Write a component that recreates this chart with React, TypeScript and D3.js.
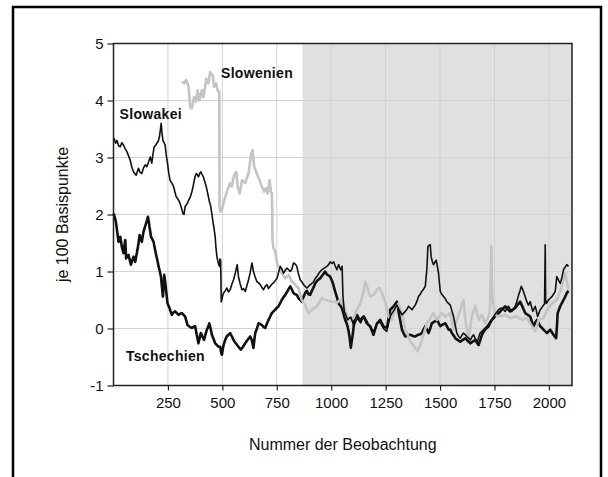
import React, { useEffect, useRef } from 'react';
import * as d3 from 'd3';

// values: [Nummer der Beobachtung, je 100 Basispunkte]
const slowakei: [number, number][] = [
  [1, 3.3], [3, 3.33], [10, 3.25], [16, 3.3], [24, 3.2], [31, 3.19], [38, 3.26], [46, 3.22], [54, 3.15], [62, 3.1],
  [70, 3.02], [77, 2.95], [85, 2.82], [92, 2.75], [98, 2.72], [104, 2.69], [110, 2.76], [115, 2.81], [122, 2.74], [130, 2.72],
  [138, 2.82], [146, 2.87], [153, 2.84], [161, 2.92], [169, 3.01], [176, 2.9], [181, 3.05], [187, 3.19], [193, 3.21], [199, 3.25],
  [205, 3.28], [211, 3.36], [215, 3.48], [219, 3.6], [223, 3.42], [227, 3.3], [232, 3.26], [237, 3.22], [242, 3.05], [248, 2.9],
  [254, 2.72], [260, 2.6], [268, 2.55], [276, 2.49], [282, 2.4], [288, 2.31], [294, 2.28], [299, 2.25], [305, 2.2], [310, 2.14],
  [315, 2.08], [319, 2.02], [324, 2.0], [329, 2.14], [337, 2.18], [345, 2.25], [352, 2.3], [360, 2.4], [366, 2.5], [371, 2.6],
  [376, 2.68], [380, 2.72], [385, 2.7], [390, 2.66], [396, 2.72], [401, 2.75], [407, 2.7], [413, 2.66], [419, 2.58], [426, 2.49],
  [431, 2.4], [436, 2.31], [441, 2.22], [447, 2.14], [452, 2.0], [457, 1.87], [462, 1.75], [467, 1.61], [471, 1.4], [475, 1.26],
  [481, 1.15], [487, 1.09], [489, 1.22], [492, 1.2], [495, 0.47], [500, 0.55], [505, 0.62], [513, 0.66], [521, 0.71], [528, 0.64],
  [536, 0.68], [544, 0.78], [551, 0.85], [560, 0.98], [568, 1.12], [574, 0.91], [582, 0.78], [590, 0.68], [597, 0.7], [605, 0.65],
  [612, 0.74], [620, 0.85], [628, 0.98], [636, 1.15], [643, 1.0], [651, 0.9], [659, 0.82], [667, 0.8], [674, 0.77], [682, 0.72],
  [689, 0.68], [697, 0.74], [705, 0.77], [712, 0.7], [720, 0.74], [728, 0.78], [735, 0.8], [743, 0.84], [751, 0.88], [758, 0.98],
  [766, 1.09], [773, 1.05], [781, 0.97], [789, 1.02], [797, 1.06], [804, 1.03], [812, 1.0], [819, 1.04], [827, 1.15], [835, 1.13],
  [842, 1.09], [850, 0.95], [858, 0.85], [865, 0.82], [873, 0.77], [880, 0.74], [888, 0.71], [896, 0.74], [904, 0.77], [911, 0.79],
  [919, 0.82], [927, 0.88], [934, 0.91], [945, 0.98], [957, 1.03], [968, 1.06], [980, 1.09], [988, 1.12], [995, 1.17], [1003, 1.14],
  [1011, 1.17], [1018, 1.1], [1026, 1.03], [1034, 1.12], [1040, 1.06], [1044, 1.03], [1050, 1.09], [1054, 0.56], [1060, 0.3], [1067, 0.24],
  [1075, 0.15], [1082, 0.18], [1090, 0.2], [1097, 0.12], [1105, 0.05], [1112, 0.12], [1120, 0.18], [1127, 0.14], [1135, 0.1], [1142, 0.16],
  [1150, 0.22], [1158, 0.17], [1165, 0.12], [1172, 0.06], [1180, 0.02], [1188, -0.02], [1195, -0.05], [1203, 0.02], [1210, 0.08], [1218, 0.1],
  [1225, 0.12], [1232, 0.06], [1240, 0.0], [1248, -0.03], [1255, -0.05], [1263, 0.08], [1271, 0.21], [1278, 0.26], [1285, 0.3], [1294, 0.36],
  [1302, 0.41], [1313, 0.32], [1325, 0.24], [1333, 0.27], [1340, 0.3], [1348, 0.34], [1355, 0.39], [1363, 0.36], [1371, 0.33], [1378, 0.37],
  [1386, 0.41], [1394, 0.48], [1401, 0.56], [1409, 0.6], [1416, 0.65], [1424, 0.69], [1432, 0.74], [1436, 0.9], [1439, 1.03], [1442, 1.25],
  [1444, 1.44], [1450, 1.46], [1455, 1.47], [1459, 1.26], [1464, 1.18], [1470, 1.12], [1476, 1.16], [1482, 1.2], [1488, 1.08], [1493, 0.97],
  [1497, 0.8], [1501, 0.65], [1508, 0.6], [1516, 0.56], [1524, 0.52], [1531, 0.47], [1539, 0.44], [1547, 0.41], [1555, 0.3], [1562, 0.21],
  [1570, 0.05], [1577, -0.08], [1585, -0.14], [1593, -0.17], [1600, -0.12], [1608, -0.08], [1616, -0.11], [1623, -0.14], [1631, -0.17], [1639, -0.2],
  [1646, -0.15], [1654, -0.11], [1662, -0.18], [1669, -0.26], [1677, -0.16], [1684, -0.08], [1692, -0.05], [1700, -0.02], [1707, 0.01], [1715, 0.04],
  [1723, 0.08], [1730, 0.12], [1738, 0.16], [1746, 0.21], [1757, 0.27], [1769, 0.33], [1776, 0.35], [1784, 0.36], [1792, 0.33], [1799, 0.3],
  [1807, 0.35], [1814, 0.39], [1822, 0.34], [1830, 0.3], [1838, 0.35], [1845, 0.39], [1853, 0.48], [1861, 0.59], [1867, 0.66], [1873, 0.74],
  [1878, 0.7], [1883, 0.65], [1890, 0.57], [1896, 0.5], [1901, 0.45], [1906, 0.41], [1910, 0.44], [1914, 0.47], [1920, 0.38], [1926, 0.3],
  [1932, 0.35], [1937, 0.39], [1943, 0.3], [1948, 0.21], [1954, 0.27], [1960, 0.33], [1968, 0.37], [1975, 0.41], [1980, 0.43], [1983, 1.47],
  [1985, 0.5], [1988, 0.44], [1993, 0.47], [1998, 0.5], [2006, 0.53], [2014, 0.56], [2021, 0.6], [2029, 0.65], [2033, 0.8], [2036, 0.91],
  [2044, 0.85], [2052, 0.79], [2060, 0.9], [2067, 1.03], [2075, 1.08], [2082, 1.12], [2090, 1.09],
];

const tschechien: [number, number][] = [
  [1, 2.02], [3, 1.99], [8, 1.92], [12, 1.85], [15, 1.76], [18, 1.67], [23, 1.52], [27, 1.57], [31, 1.61], [35, 1.52],
  [38, 1.44], [42, 1.38], [46, 1.32], [50, 1.45], [54, 1.55], [58, 1.23], [63, 1.27], [69, 1.29], [75, 1.2], [80, 1.12],
  [86, 1.19], [92, 1.26], [96, 1.21], [100, 1.17], [105, 1.28], [110, 1.38], [115, 1.5], [120, 1.64], [125, 1.58], [130, 1.52],
  [134, 1.61], [138, 1.7], [144, 1.78], [150, 1.85], [154, 1.9], [158, 1.96], [162, 1.88], [165, 1.79], [169, 1.7], [172, 1.61],
  [178, 1.57], [184, 1.52], [190, 1.4], [196, 1.29], [202, 1.19], [207, 1.09], [213, 1.0], [218, 0.91], [222, 0.75], [227, 0.56],
  [230, 0.75], [233, 0.94], [238, 0.8], [242, 0.65], [245, 0.55], [248, 0.44], [253, 0.4], [257, 0.36], [262, 0.3], [268, 0.24],
  [275, 0.28], [283, 0.3], [291, 0.27], [299, 0.24], [307, 0.26], [314, 0.27], [322, 0.24], [329, 0.21], [335, 0.13], [340, 0.06],
  [350, 0.03], [360, 0.01], [368, 0.03], [375, 0.04], [382, -0.1], [390, -0.26], [396, -0.16], [401, -0.08], [408, -0.14], [416, -0.2],
  [422, -0.11], [429, -0.02], [435, 0.03], [440, 0.09], [446, 0.0], [452, -0.11], [460, -0.19], [467, -0.26], [475, -0.29], [482, -0.32],
  [490, -0.32], [495, -0.43], [498, -0.46], [505, -0.3], [513, -0.2], [520, -0.14], [528, -0.11], [536, -0.08], [544, -0.14], [551, -0.2],
  [558, -0.24], [566, -0.28], [574, -0.32], [580, -0.35], [585, -0.37], [595, -0.32], [605, -0.26], [612, -0.22], [620, -0.18], [628, -0.14],
  [635, -0.2], [643, -0.34], [647, -0.2], [651, -0.08], [659, 0.0], [666, 0.09], [674, 0.08], [681, 0.06], [689, 0.03], [697, 0.01],
  [704, 0.08], [712, 0.15], [720, 0.21], [727, 0.27], [735, 0.3], [743, 0.33], [750, 0.36], [758, 0.39], [766, 0.45], [773, 0.5],
  [781, 0.55], [789, 0.59], [797, 0.64], [804, 0.69], [812, 0.74], [820, 0.68], [827, 0.62], [835, 0.6], [842, 0.59], [850, 0.53],
  [858, 0.5], [865, 0.47], [872, 0.55], [880, 0.62], [888, 0.66], [896, 0.6], [903, 0.59], [911, 0.66], [919, 0.72], [926, 0.79],
  [934, 0.83], [942, 0.86], [949, 0.88], [957, 0.92], [965, 0.96], [972, 1.0], [980, 0.95], [988, 0.93], [995, 0.91], [1002, 0.85],
  [1008, 0.79], [1013, 0.72], [1018, 0.65], [1026, 0.55], [1034, 0.44], [1042, 0.4], [1049, 0.36], [1057, 0.25], [1064, 0.15], [1070, 0.1],
  [1075, 0.04], [1080, -0.05], [1084, -0.14], [1087, -0.24], [1090, -0.34], [1095, -0.2], [1100, -0.08], [1106, 0.15], [1112, 0.2], [1118, 0.24],
  [1125, 0.19], [1133, 0.15], [1141, 0.18], [1149, 0.21], [1156, 0.15], [1164, 0.09], [1172, 0.06], [1179, 0.04], [1187, -0.04], [1194, -0.11],
  [1202, -0.01], [1210, 0.09], [1218, 0.12], [1225, 0.15], [1233, 0.09], [1240, 0.04], [1248, 0.02], [1256, 0.01], [1263, 0.17], [1271, 0.33],
  [1279, 0.36], [1286, 0.39], [1294, 0.43], [1302, 0.47], [1309, 0.3], [1317, 0.14], [1325, -0.02], [1332, -0.08], [1340, -0.14], [1352, -0.12],
  [1363, -0.11], [1375, -0.13], [1386, -0.14], [1394, -0.12], [1401, -0.11], [1409, -0.1], [1416, -0.08], [1424, -0.02], [1432, 0.04], [1440, -0.02],
  [1447, -0.08], [1455, 0.0], [1462, 0.09], [1474, 0.12], [1485, 0.15], [1493, 0.1], [1501, 0.04], [1512, 0.07], [1524, 0.09], [1531, 0.04],
  [1539, -0.02], [1547, -0.02], [1554, -0.08], [1562, -0.12], [1570, -0.17], [1580, -0.2], [1593, -0.23], [1605, -0.2], [1616, -0.17], [1628, -0.22],
  [1639, -0.26], [1650, -0.23], [1662, -0.2], [1670, -0.25], [1677, -0.29], [1685, -0.2], [1692, -0.11], [1700, -0.06], [1707, -0.02], [1715, 0.01],
  [1723, 0.04], [1730, 0.1], [1738, 0.15], [1750, 0.2], [1761, 0.24], [1772, 0.28], [1784, 0.33], [1792, 0.36], [1799, 0.39], [1810, 0.34],
  [1822, 0.3], [1834, 0.33], [1845, 0.36], [1857, 0.42], [1868, 0.47], [1880, 0.37], [1891, 0.27], [1903, 0.24], [1914, 0.21], [1922, 0.12],
  [1929, 0.04], [1937, 0.1], [1945, 0.15], [1952, 0.1], [1960, 0.04], [1968, 0.01], [1975, -0.02], [1983, -0.05], [1991, -0.08], [1998, -0.05],
  [2006, -0.02], [2014, -0.07], [2021, -0.11], [2027, -0.14], [2033, -0.17], [2037, 0.05], [2040, 0.27], [2046, 0.33], [2052, 0.39], [2060, 0.45],
  [2067, 0.5], [2075, 0.56], [2082, 0.62], [2090, 0.66],
];

const slowenien: [number, number][] = [
  [314, 4.33], [320, 4.31], [325, 4.3], [330, 4.34], [334, 4.36], [340, 4.3], [345, 4.24], [349, 4.05], [352, 3.89], [356, 3.87],
  [360, 3.86], [365, 3.96], [370, 4.06], [375, 4.02], [380, 3.98], [383, 4.08], [386, 4.18], [391, 4.09], [395, 4.0], [400, 4.09],
  [406, 4.18], [410, 4.12], [413, 4.06], [420, 4.22], [426, 4.38], [431, 4.34], [436, 4.3], [440, 4.4], [444, 4.5], [450, 4.47],
  [456, 4.44], [459, 4.34], [462, 4.24], [467, 4.27], [472, 4.3], [478, 4.18], [484, 4.15], [486, 4.15], [487, 2.14], [490, 2.05],
  [494, 2.07], [498, 2.08], [505, 2.2], [513, 2.3], [521, 2.4], [528, 2.48], [536, 2.55], [544, 2.49], [549, 2.6], [554, 2.69],
  [564, 2.75], [570, 2.49], [575, 2.43], [579, 2.37], [585, 2.48], [590, 2.6], [597, 2.58], [605, 2.55], [612, 2.64], [620, 2.72],
  [626, 2.88], [631, 3.04], [635, 3.08], [639, 3.13], [646, 2.84], [652, 2.78], [658, 2.72], [664, 2.66], [671, 2.6], [676, 2.55],
  [681, 2.49], [687, 2.45], [692, 2.4], [700, 2.46], [705, 2.41], [708, 2.37], [713, 2.5], [717, 2.6], [723, 2.4], [727, 2.37],
  [729, 2.1], [730, 1.55], [735, 1.41], [739, 1.38], [743, 1.35], [747, 1.25], [750, 1.17], [754, 1.12], [758, 1.09], [766, 1.03],
  [773, 0.97], [781, 0.92], [789, 0.88], [797, 0.91], [804, 0.94], [812, 0.88], [819, 0.82], [827, 0.8], [835, 0.77], [842, 0.74],
  [850, 0.71], [858, 0.6], [865, 0.5], [872, 0.46], [880, 0.42], [888, 0.34], [896, 0.27], [903, 0.3], [911, 0.33], [922, 0.36],
  [934, 0.39], [945, 0.46], [957, 0.53], [968, 0.51], [980, 0.5], [992, 0.48], [1003, 0.47], [1011, 0.47], [1018, 0.47], [1026, 0.45],
  [1034, 0.48], [1041, 0.5], [1049, 0.45], [1057, 0.41], [1064, 0.31], [1072, 0.21], [1080, 0.18], [1087, 0.15], [1095, 0.16], [1102, 0.18],
  [1110, 0.25], [1118, 0.33], [1125, 0.38], [1133, 0.44], [1141, 0.54], [1149, 0.65], [1153, 0.74], [1156, 0.82], [1162, 0.76], [1167, 0.71],
  [1173, 0.63], [1179, 0.56], [1186, 0.58], [1194, 0.59], [1202, 0.63], [1210, 0.68], [1216, 0.7], [1222, 0.71], [1228, 0.66], [1233, 0.62],
  [1240, 0.54], [1248, 0.47], [1256, 0.34], [1263, 0.21], [1271, 0.18], [1279, 0.15], [1286, 0.24], [1294, 0.33], [1302, 0.38], [1309, 0.44],
  [1317, 0.35], [1325, 0.27], [1332, 0.12], [1340, -0.02], [1352, -0.12], [1363, -0.23], [1375, -0.28], [1386, -0.34], [1392, -0.37], [1397, -0.4],
  [1403, -0.34], [1409, -0.29], [1416, -0.2], [1424, -0.11], [1432, -0.01], [1439, 0.09], [1447, 0.13], [1455, 0.18], [1462, 0.22], [1470, 0.27],
  [1478, 0.21], [1485, 0.15], [1496, 0.21], [1508, 0.27], [1516, 0.24], [1524, 0.21], [1535, 0.24], [1547, 0.27], [1555, 0.12], [1562, -0.02],
  [1570, 0.06], [1577, 0.15], [1585, 0.24], [1593, 0.33], [1600, 0.42], [1608, 0.5], [1612, 0.32], [1616, 0.15], [1623, 0.0], [1631, -0.14],
  [1639, 0.03], [1646, 0.21], [1654, 0.3], [1662, 0.39], [1670, 0.27], [1677, 0.15], [1685, 0.2], [1692, 0.24], [1700, 0.16], [1707, 0.09],
  [1715, 0.15], [1723, 0.21], [1727, 0.3], [1730, 0.39], [1733, 0.9], [1735, 1.44], [1737, 1.0], [1740, 0.56], [1746, 0.4], [1753, 0.24],
  [1765, 0.22], [1776, 0.21], [1788, 0.23], [1799, 0.24], [1810, 0.21], [1822, 0.18], [1838, 0.2], [1853, 0.21], [1865, 0.18], [1876, 0.15],
  [1888, 0.17], [1899, 0.18], [1910, 0.11], [1922, 0.04], [1930, 0.0], [1937, -0.05], [1945, 0.05], [1952, 0.15], [1963, 0.17], [1975, 0.18],
  [1983, 0.25], [1991, 0.33], [2002, 0.38], [2014, 0.44], [2025, 0.47], [2036, 0.5], [2048, 0.62], [2059, 0.74], [2067, 0.86], [2075, 0.97],
  [2082, 0.82], [2090, 0.68],
];

const xTicks = [250, 500, 750, 1000, 1250, 1500, 1750, 2000];
const yTicks = [-1, 0, 1, 2, 3, 4, 5];
const shadeStart = 868;
const xDomain = [0, 2106];
const yDomain = [-1, 5];

// name, anchor obs, anchor value for the in-plot labels
const seriesLabels: [string, number, number][] = [
  ['Slowenien', 494, 4.48],
  ['Slowakei', 28, 3.77],
  ['Tschechien', 57, -0.49],
];

const W = 608;
const H = 477;
const margin = { left: 113.5, right: 36, top: 43.5, bottom: 91.5 };
const font = '"Liberation Sans", Arial, sans-serif';

export default function App() {
  const ref = useRef<SVGSVGElement>(null);

  useEffect(() => {
    const svg = d3.select(ref.current);
    svg.selectAll('*').remove();

    const x = d3.scaleLinear().domain(xDomain).range([margin.left, W - margin.right]);
    const y = d3.scaleLinear().domain(yDomain).range([H - margin.bottom, margin.top]);
    const [x0, x1] = x.range();
    const [y0, y1] = y.range();

    svg.append('rect').attr('width', W).attr('height', H).attr('fill', '#fff');
    // outer frame (bottom edge runs off the picture)
    svg.append('rect')
      .attr('x', 13).attr('y', 7).attr('width', 588).attr('height', 500)
      .attr('fill', 'none').attr('stroke', '#000').attr('stroke-width', 2.5);

    svg.append('rect')
      .attr('x', x(shadeStart)).attr('y', y1)
      .attr('width', x1 - x(shadeStart)).attr('height', y0 - y1)
      .attr('fill', '#e0e0e0');

    const grid = svg.append('g').attr('stroke', '#d2d2d2').attr('stroke-width', 1);
    grid.selectAll('.gx').data(xTicks).enter().append('line')
      .attr('x1', (d) => x(d)).attr('x2', (d) => x(d))
      .attr('y1', y1).attr('y2', y0);
    grid.selectAll('.gy').data(yTicks).enter().append('line')
      .attr('x1', x0).attr('x2', x1)
      .attr('y1', (d) => y(d)).attr('y2', (d) => y(d));

    const plot = svg.append('g');
    const line = d3.line<[number, number]>().x((d) => x(d[0])).y((d) => y(d[1]));
    plot.append('path').datum(tschechien).attr('d', line)
      .attr('fill', 'none').attr('stroke', '#111').attr('stroke-width', 2.6).attr('stroke-linejoin', 'round');
    plot.append('path').datum(slowenien).attr('d', line)
      .attr('fill', 'none').attr('stroke', '#c4c4c4').attr('stroke-width', 2.6).attr('stroke-linejoin', 'round');
    plot.append('path').datum(slowakei).attr('d', line)
      .attr('fill', 'none').attr('stroke', '#111').attr('stroke-width', 1.6).attr('stroke-linejoin', 'round');

    svg.append('rect')
      .attr('x', x0).attr('y', y1).attr('width', x1 - x0).attr('height', y0 - y1)
      .attr('fill', 'none').attr('stroke', '#222').attr('stroke-width', 1.5);

    // plain hyphen for negatives, as in the original
    const fmt = (d: d3.NumberValue) => String(d);
    const yAxis = svg.append('g').attr('transform', `translate(${x0},0)`)
      .call(d3.axisLeft(y).tickValues(yTicks).tickSize(6).tickPadding(4).tickFormat(fmt));
    const xAxis = svg.append('g').attr('transform', `translate(0,${y0})`)
      .call(d3.axisBottom(x).tickValues(xTicks).tickSize(5).tickPadding(7).tickFormat(fmt));
    [xAxis, yAxis].forEach((g) => {
      g.select('.domain').remove();
      g.selectAll('line').attr('stroke', '#222').attr('stroke-width', 1.2);
      g.selectAll('text').attr('fill', '#111').style('font-family', font).style('font-size', '15px');
    });

    svg.append('text')
      .attr('transform', `translate(62,${(y0 + y1) / 2}) rotate(-90)`)
      .attr('text-anchor', 'middle').attr('dy', '0.35em')
      .style('font-family', font).style('font-size', '16px').attr('fill', '#111')
      .text('je 100 Basispunkte');
    svg.append('text')
      .attr('x', (x0 + x1) / 2).attr('y', 450)
      .attr('text-anchor', 'middle')
      .style('font-family', font).style('font-size', '16px').attr('fill', '#111')
      .text('Nummer der Beobachtung');

    svg.append('g').selectAll('text').data(seriesLabels).enter().append('text')
      .attr('x', (d) => x(d[1])).attr('y', (d) => y(d[2]))
      .attr('dy', '0.35em')
      .style('font-family', font).style('font-size', '14px').style('font-weight', 'bold')
      .style('letter-spacing', '0.3px').attr('fill', '#111')
      .text((d) => d[0]);
  }, []);

  return (
    <div style={{ position: 'absolute', left: 0, top: 0 }}>
      <svg ref={ref} width={W} height={H} style={{ display: 'block' }} />
    </div>
  );
}
